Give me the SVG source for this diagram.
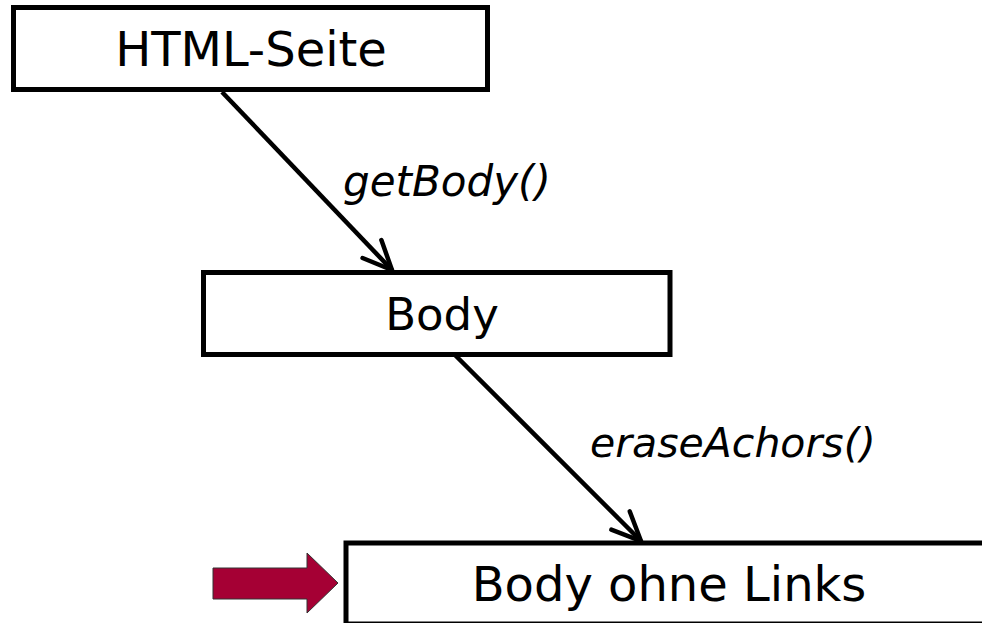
<svg xmlns="http://www.w3.org/2000/svg" width="982" height="623" viewBox="0 0 982 623">
<style>
.box{fill:#fff;stroke:#000;stroke-width:5}
.lbl{font-family:"DejaVu Sans","Verdana",sans-serif;fill:#000}
.node{font-size:48px;text-anchor:middle}
.edge{font-size:42px;font-style:italic}
.conn{stroke:#000;stroke-width:4.5;fill:none;marker-end:url(#arr)}
</style>
<defs>
<marker id="arr" markerUnits="userSpaceOnUse" markerWidth="40" markerHeight="40" viewBox="-36 -20 40 40" refX="0" refY="0" orient="auto">
<path d="M-29,-13 L0,0 L-29,13" fill="none" stroke="#000" stroke-width="4.5" stroke-linecap="round" stroke-linejoin="miter"/>
</marker>
</defs>
<rect width="982" height="623" fill="#fff"/>
<g id="connectors">
<line class="conn" x1="222" y1="92" x2="392" y2="270"/>
<line class="conn" x1="455" y1="355" x2="641" y2="541"/>
<text class="lbl edge" x="343" y="196">getBody()</text>
<text class="lbl edge" x="590" y="457" style="font-size:41px">eraseAchors()</text>
</g>
<g id="html-seite">
<rect class="box" x="13.5" y="7.5" width="474" height="82"/>
<text class="lbl node" x="251" y="66">HTML-Seite</text>
</g>
<g id="body">
<rect class="box" x="203.5" y="272.5" width="466.5" height="82"/>
<text class="lbl node" x="442" y="330" style="font-size:45px">Body</text>
</g>
<g id="body-ohne-links">
<rect class="box" x="346" y="543" width="700" height="81"/>
<text class="lbl node" x="669" y="601">Body ohne Links</text>
</g>
<g id="pointer">
<polygon points="213,568 307,568 307,553 338,583 307,613 307,599 213,599" fill="#A50034" stroke="#333" stroke-width="1"/>
</g>
</svg>
